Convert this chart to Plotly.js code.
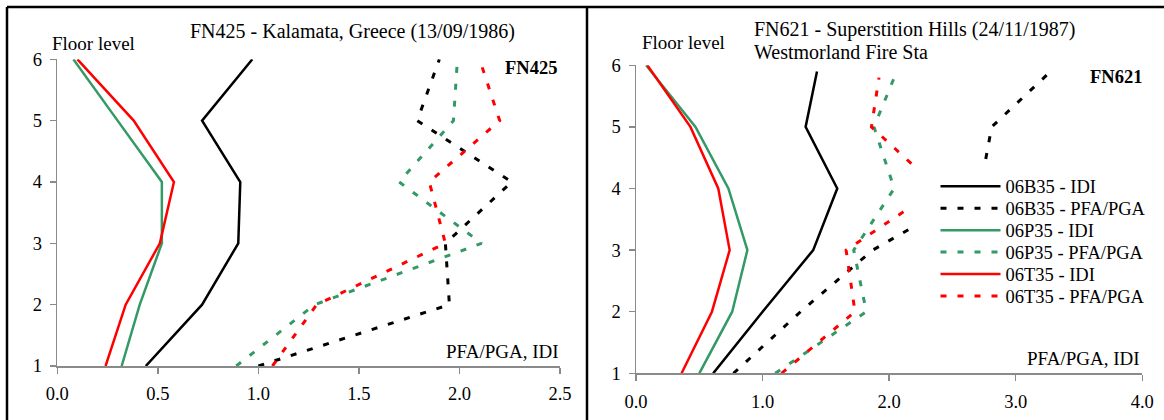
<!DOCTYPE html>
<html>
<head>
<meta charset="utf-8">
<script src="https://cdn.plot.ly/plotly-3.0.1.min.js"></script>
<style>html,body{margin:0;padding:0;background:#fff;}#chart{width:1164px;height:420px;}</style>
</head>
<body>
<div id="chart"></div>
<script>
// ---------- data ----------
const floors = [1, 2, 3, 4, 5, 6];

// FN425 - Kalamata
const b35_idi_425 = [0.44, 0.72, 0.90, 0.91, 0.72, 0.97];
const b35_pfa_425 = [1.00, 1.95, 1.93, 2.26, 1.79, 1.90];
const p35_idi_425 = [0.32, 0.41, 0.52, 0.52, 0.30, 0.08];
const p35_pfa_425 = [0.89, 1.28, 2.11, 1.70, 1.97, 1.99];
const t35_idi_425 = [0.24, 0.34, 0.51, 0.58, 0.38, 0.10];
const t35_pfa_425 = [1.07, 1.29, 1.93, 1.85, 2.20, 2.10];

// FN621 - Superstition Hills
const b35_idi_621 = [0.61, 1.00, 1.40, 1.59, 1.34, 1.43];
const b35_idi_621_floor = [1, 2, 3, 4, 5, 5.9];
const b35_pfa_621 = [0.77, 1.30, 1.87, 2.72, 2.81, 3.26];
const b35_pfa_621_floor = [1, 2, 3, 4, 5, 5.87];
const p35_idi_621 = [0.50, 0.76, 0.88, 0.73, 0.47, 0.08];
const p35_pfa_621 = [1.10, 1.82, 1.72, 2.04, 1.88, 2.06];
const p35_pfa_621_floor = [1, 2, 3, 4, 5, 5.9];
const t35_idi_621 = [0.36, 0.60, 0.74, 0.65, 0.43, 0.09];
const t35_pfa_621 = [1.15, 1.73, 1.66, 2.39, 1.86, 1.92];
const t35_pfa_621_floor = [1, 2, 3, 4, 5, 5.8];

const seriesNames = ['06B35 - IDI', '06B35 - PFA/PGA', '06P35 - IDI', '06P35 - PFA/PGA', '06T35 - IDI', '06T35 - PFA/PGA'];
const xTicks425 = [0, 0.5, 1.0, 1.5, 2.0, 2.5];
const xTicks621 = [0, 1, 2, 3, 4];
const yTicks = [1, 2, 3, 4, 5, 6];

// ---------- styling ----------
const W = 1164, H = 420;
const px = v => v / W;
const py = v => 1 - v / H;
const SERIF = 'Liberation Serif, Times New Roman, serif';
const BLACK = '#000000', GREEN = '#339966', RED = '#ff0000';
const DOT = '6px,11px';
const solid = c => ({color: c, width: 2.5});
const dotted = c => ({color: c, width: 3, dash: DOT});

function tr(x, y, line, name, xa, ya, legendId, show) {
  return {type: 'scatter', mode: 'lines', x: x, y: y, line: line, name: name,
          xaxis: xa, yaxis: ya, showlegend: show, legend: legendId, hoverinfo: 'skip'};
}

const data = [
  // left panel
  tr(b35_idi_425, floors, solid(BLACK), seriesNames[0], 'x', 'y', 'legend', false),
  tr(b35_pfa_425, floors, dotted(BLACK), seriesNames[1], 'x', 'y', 'legend', false),
  tr(p35_idi_425, floors, solid(GREEN), seriesNames[2], 'x', 'y', 'legend', false),
  tr(p35_pfa_425, floors, dotted(GREEN), seriesNames[3], 'x', 'y', 'legend', false),
  tr(t35_idi_425, floors, solid(RED), seriesNames[4], 'x', 'y', 'legend', false),
  tr(t35_pfa_425, floors, dotted(RED), seriesNames[5], 'x', 'y', 'legend', false),
  // right panel
  tr(b35_idi_621, b35_idi_621_floor, solid(BLACK), seriesNames[0], 'x2', 'y2', 'legend', true),
  tr(b35_pfa_621, b35_pfa_621_floor, dotted(BLACK), seriesNames[1], 'x2', 'y2', 'legend2', true),
  tr(p35_idi_621, floors, solid(GREEN), seriesNames[2], 'x2', 'y2', 'legend3', true),
  tr(p35_pfa_621, p35_pfa_621_floor, dotted(GREEN), seriesNames[3], 'x2', 'y2', 'legend4', true),
  tr(t35_idi_621, floors, solid(RED), seriesNames[4], 'x2', 'y2', 'legend5', true),
  tr(t35_pfa_621, t35_pfa_621_floor, dotted(RED), seriesNames[5], 'x2', 'y2', 'legend6', true)
];

const AXC = '#8a8a8a';
const tickFont = {family: SERIF, size: 18.5, color: '#000'};
function xAxis(domain, range, ticks, anchor, standoff) {
  return {domain: domain, range: range, anchor: anchor, tickmode: 'array', tickvals: ticks,
          ticktext: ticks.map(v => v.toFixed(1)), showline: true, linecolor: AXC, linewidth: 1.5,
          ticks: 'outside', ticklen: 6, tickwidth: 1.5, tickcolor: AXC, showgrid: false,
          zeroline: false, tickfont: tickFont, ticklabelstandoff: standoff, fixedrange: true};
}
function yAxis(domain, anchor) {
  return {domain: domain, range: [1, 6], anchor: anchor, tickmode: 'array', tickvals: yTicks,
          ticktext: yTicks.map(String), showline: true, linecolor: AXC, linewidth: 1.5,
          ticks: 'outside', ticklen: 6, tickwidth: 1.5, tickcolor: AXC, showgrid: false,
          zeroline: false, tickfont: tickFont, ticklabelstandoff: 4, fixedrange: true};
}

const legendRows = [186.7, 208.7, 230.6, 252.5, 274.4, 296.4];
const legendBase = {xanchor: 'left', yanchor: 'middle', bgcolor: 'rgba(0,0,0,0)', borderwidth: 0,
                    font: {family: SERIF, size: 18.5, color: '#000'}, itemwidth: 60};
function leg(i) { return Object.assign({x: px(935.5), y: py(legendRows[i])}, legendBase); }

function ann(text, x, y, xanchor, opts) {
  return Object.assign({text: text, xref: 'paper', yref: 'paper', x: px(x), y: py(y),
    xanchor: xanchor, yanchor: 'middle', showarrow: false,
    font: {family: SERIF, size: 19, color: '#000'}}, opts || {});
}

const layout = {
  width: W, height: H, margin: {l: 0, r: 0, t: 0, b: 0},
  paper_bgcolor: '#fff', plot_bgcolor: 'rgba(0,0,0,0)', showlegend: true,
  font: {family: SERIF},
  xaxis: xAxis([px(57.3), px(560)], [0, 2.5], xTicks425, 'y', 4),
  yaxis: yAxis([1 - 366 / H, 1 - 59.3 / H], 'x'),
  xaxis2: xAxis([px(636), px(1142.3)], [0, 4], xTicks621, 'y2', 5),
  yaxis2: yAxis([1 - 373.3 / H, 1 - 65.3 / H], 'x2'),
  legend: leg(0), legend2: leg(1), legend3: leg(2), legend4: leg(3), legend5: leg(4), legend6: leg(5),
  shapes: [
    {type: 'rect', xref: 'paper', yref: 'paper', x0: px(912), x1: px(1150), y0: py(312), y1: py(169),
     fillcolor: '#ffffff', line: {width: 0}, layer: 'above'},
    {type: 'line', xref: 'paper', yref: 'paper', x0: px(7), x1: 1, y0: py(7), y1: py(7), line: {color: '#000', width: 2.5}},
    {type: 'line', xref: 'paper', yref: 'paper', x0: px(7), x1: px(7), y0: 0, y1: py(7), line: {color: '#000', width: 2.5}},
    {type: 'line', xref: 'paper', yref: 'paper', x0: px(587), x1: px(587), y0: 0, y1: py(7), line: {color: '#000', width: 2.5}}
  ],
  annotations: [
    ann('FN425 - Kalamata, Greece (13/09/1986)', 352.5, 31.7, 'center', {font: {family: SERIF, size: 20, color: '#000'}}),
    ann('Floor level', 50, 43.3, 'left'),
    ann('<b>FN425</b>', 502.5, 68.3, 'left', {font: {family: SERIF, size: 18.5, color: '#000'}}),
    ann('PFA/PGA, IDI', 561, 351.7, 'right'),
    ann('FN621 - Superstition Hills (24/11/1987)', 751.5, 30, 'left', {font: {family: SERIF, size: 20, color: '#000'}}),
    ann('Westmorland Fire Sta', 751.5, 52.3, 'left', {font: {family: SERIF, size: 20, color: '#000'}}),
    ann('Floor level', 640, 42.7, 'left'),
    ann('<b>FN621</b>', 1087.5, 77.3, 'left', {font: {family: SERIF, size: 18.5, color: '#000'}}),
    ann('PFA/PGA, IDI', 1141.5, 358.3, 'right')
  ]
};

Plotly.newPlot('chart', data, layout, {displayModeBar: false, staticPlot: true});
</script>
</body>
</html>
